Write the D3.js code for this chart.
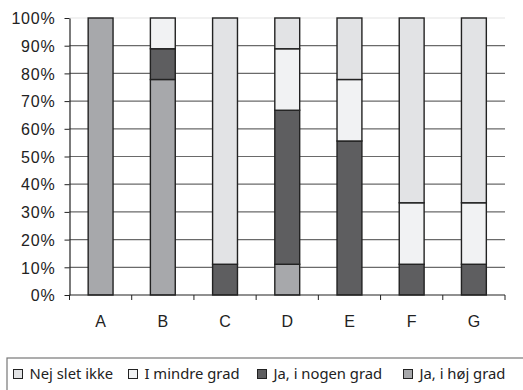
<!DOCTYPE html>
<html><head><meta charset="utf-8">
<script src="https://cdn.jsdelivr.net/npm/d3@7"></script>
<style>body{margin:0;background:#fff}</style>
</head><body>
<svg id="c" width="523" height="390"></svg>
<script>
const categories = ["A","B","C","D","E","F","G"];
const seriesNames = ["Ja, i høj grad","Ja, i nogen grad","I mindre grad","Nej slet ikke"];
const hoj    = [100, 77.8, 0,    11.1, 0,    0,    0];
const nogen  = [0,   11.1, 11.1, 55.6, 55.6, 11.1, 11.1];
const mindre = [0,   11.1, 0,    22.2, 22.2, 22.2, 22.2];
const nej    = [0,   0,    88.9, 11.1, 22.2, 66.7, 66.7];
const yTicks = [0,10,20,30,40,50,60,70,80,90,100];
const legendOrder = ["Nej slet ikke","I mindre grad","Ja, i nogen grad","Ja, i høj grad"];

const colors = {"Ja, i høj grad":"#a7a8ab","Ja, i nogen grad":"#5e5e60","I mindre grad":"#f1f2f3","Nej slet ikke":"#e2e3e5"};
const valuesBySeries = [hoj, nogen, mindre, nej];
const rows = categories.map((c,i)=>{const r={cat:c}; seriesNames.forEach((s,j)=>r[s]=valuesBySeries[j][i]); return r;});
const stack = d3.stack().keys(seriesNames)(rows);

const svg = d3.select("#c");
const L=69.5, R=505, T=18, B=295;
const x = d3.scaleBand().domain(categories).range([L,R]).paddingInner(0.6).paddingOuter(0.3);
const y = d3.scaleLinear().domain([0,100]).range([B,T]);

// gridlines
svg.append("g").selectAll("line").data(yTicks.filter(t=>t>0)).join("line")
  .attr("x1",L).attr("x2",R).attr("y1",d=>y(d)).attr("y2",d=>y(d))
  .attr("stroke",d=>d===100?"#e4e4e4":"#6a6a6a").attr("stroke-width",1.2);

// bars
svg.append("g").selectAll("g").data(stack).join("g")
  .attr("fill",d=>colors[d.key])
  .selectAll("rect").data(d=>d.filter(p=>p[1]-p[0]>0)).join("rect")
  .attr("x",d=>x(d.data.cat)).attr("width",x.bandwidth())
  .attr("y",d=>y(d[1])).attr("height",d=>y(d[0])-y(d[1]))
  .attr("stroke","#222").attr("stroke-width",1.4);

// y axis
const ya = svg.append("g").attr("transform",`translate(${L},0)`)
  .call(d3.axisLeft(y).tickValues(yTicks).tickFormat(d=>d+"%").tickSize(5).tickSizeOuter(0));
ya.select(".domain").attr("stroke","#222").attr("stroke-width",1.2);
ya.selectAll(".tick line").attr("stroke","#222");
ya.selectAll("text").attr("x",-14).attr("dy","0.36em")
  .style("font-family","Liberation Sans, Arial, sans-serif").style("font-size","16px")
  .style("letter-spacing","0.8px").attr("fill","#222");

// x axis
const xTickPos = d3.range(categories.length+1).map(i=>L+i*(R-L)/categories.length);
svg.append("line").attr("x1",L).attr("x2",R).attr("y1",B).attr("y2",B).attr("stroke","#222").attr("stroke-width",1.2);
svg.append("g").selectAll("line").data(xTickPos).join("line")
  .attr("x1",d=>d).attr("x2",d=>d).attr("y1",B).attr("y2",B+5).attr("stroke","#222");
svg.append("g").selectAll("text").data(categories).join("text")
  .attr("x",d=>x(d)+x.bandwidth()/2).attr("y",327).attr("text-anchor","middle")
  .style("font-family","Liberation Sans, Arial, sans-serif").style("font-size","16px").attr("fill","#222")
  .text(d=>d);

// legend
svg.append("rect").attr("x",7).attr("y",358).attr("width",530).attr("height",50)
  .attr("fill","none").attr("stroke","#777").attr("stroke-width",1.2);
const legX = [13,128,257,403];
const lg = svg.append("g").selectAll("g").data(legendOrder).join("g")
  .attr("transform",(d,i)=>`translate(${legX[i]},0)`);
lg.append("rect").attr("x",0.5).attr("y",369.5).attr("width",9).attr("height",9)
  .attr("fill",d=>colors[d]).attr("stroke","#222").attr("stroke-width",1);
lg.append("text").attr("x",16.5).attr("y",378.5)
  .style("font-family","Noto Sans, Open Sans, sans-serif").style("font-size","14.8px").attr("fill","#222")
  .text(d=>d);
</script>
</body></html>
